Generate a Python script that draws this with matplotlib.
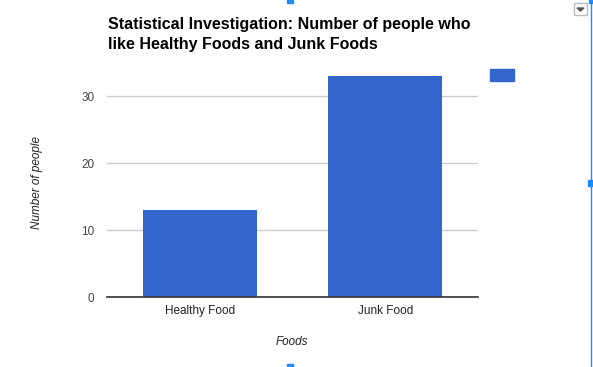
import matplotlib.pyplot as plt
from matplotlib.patches import Rectangle, Polygon
from matplotlib.lines import Line2D

categories = ["Healthy Food", "Junk Food"]
people = [13, 33]
y_ticks = [0, 10, 20, 30]

blue = "#3366cc"
plt.rcParams['font.family'] = ['Liberation Sans', 'DejaVu Sans']

fig = plt.figure(figsize=(5.93, 3.67), dpi=100)
W, H = 593, 367

def fx(px):
    return px / W

def fy(py):
    return 1 - py / H

ax = fig.add_axes([fx(107), fy(297), fx(478) - fx(107), fy(63) - fy(297)])
ax.bar(range(len(categories)), people, width=0.615, color=blue, zorder=3)
ax.set_xlim(-0.5, 1.5)
ax.set_ylim(0, 35)
ax.set_yticks(y_ticks)
ax.set_xticks(range(len(categories)))
ax.set_xticklabels(categories)
ax.grid(axis='y', color='#cccccc', linewidth=1, zorder=0)
for s in ['top', 'right', 'left']:
    ax.spines[s].set_visible(False)
ax.spines['bottom'].set_color('#333333')
ax.spines['bottom'].set_linewidth(1.2)
ax.spines['bottom'].set_zorder(4)
ax.tick_params(axis='both', length=0, labelsize=8.5, colors='#444444')
ax.tick_params(axis='y', pad=9)
ax.tick_params(axis='x', pad=6)
for lbl in ax.get_xticklabels():
    lbl.set_color('#222222')

fig.text(fx(108), fy(24), "Statistical Investigation: Number of people who",
         fontsize=11.5, fontweight='bold', va='center', ha='left', color='black')
fig.text(fx(108), fy(44), "like Healthy Foods and Junk Foods",
         fontsize=11.5, fontweight='bold', va='center', ha='left', color='black')

fig.text(fx(292), fy(342), "Foods", fontsize=8.5, style='italic',
         ha='center', va='center', color='#222222')
fig.text(fx(37), fy(183), "Number of people", fontsize=8.5, style='italic',
         rotation=90, ha='center', va='center', color='#222222')

# legend swatch
fig.patches.append(Rectangle((fx(490), fy(81)), fx(24), fy(69) - fy(81),
                             transform=fig.transFigure, color=blue))

# dropdown icon
fig.patches.append(Rectangle((fx(574), fy(15)), fx(13), fy(3) - fy(15),
                             transform=fig.transFigure, facecolor='white',
                             edgecolor='#bbbbbb', linewidth=1))
fig.patches.append(Polygon([(fx(577), fy(8)), (fx(584), fy(8)), (fx(580.5), fy(11))],
                           closed=True, transform=fig.transFigure, color='#555555'))

# selection handles
fig.lines.append(Line2D([fx(591), fx(591)], [0, 1], transform=fig.transFigure,
                        color='#1a8cff', linewidth=1))
for (x0, y0, w, h) in [(588, 180, 5, 6), (589, 0, 4, 3), (287, 0, 6, 3), (287, 364, 6, 3)]:
    fig.patches.append(Rectangle((fx(x0), fy(y0 + h)), fx(w), fy(y0) - fy(y0 + h),
                                 transform=fig.transFigure, color='#1a8cff'))

fig.savefig("out.png", dpi=100)
